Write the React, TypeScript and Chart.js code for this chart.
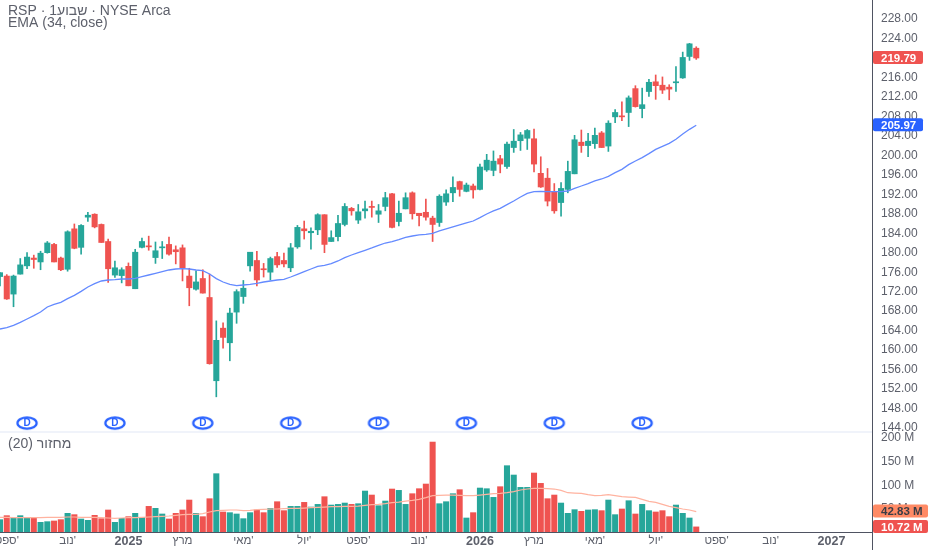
import React, { useEffect, useRef } from "react";
import { Chart, registerables } from "chart.js";

Chart.register(...registerables);

const opens = [174.9,175.0,171.3,175.4,177.1,178.7,177.9,179.8,181.5,178.7,176.4,184.7,180.9,187.1,187.7,185.6,182.1,175.2,175.1,177.0,172.4,180.9,181.2,178.8,180.8,181.5,180.4,180.8,175.0,172.3,174.5,170.6,153.5,164.3,161.3,167.6,
170.8,177.1,178.2,176.5,175.8,179.0,178.2,176.7,181.0,184.7,183.9,184.5,187.6,182.1,183.1,185.6,188.9,186.5,188.4,189.3,187.7,189.3,191.9,186.2,188.8,192.1,187.9,188.1,186.9,186.0,190.2,192.1,194.4,192.4,
193.5,192.8,196.8,196.7,199.1,197.5,201.4,202.8,203.3,203.2,196.1,195.1,192.3,190.1,192.8,196.0,202.5,201.8,202.2,204.4,201.7,207.7,207.9,208.6,213.5,209.4,212.9,214.9,214.2,213.8,214.7,215.7,220.1,221.8];
const highs = [175.7,175.3,175.2,178.6,179.8,179.3,180.1,182.1,181.7,178.9,184.3,185.7,185.6,188.1,187.8,185.7,182.6,178.1,176.7,177.7,180.5,182.8,183.2,182.0,182.1,183.0,181.2,181.4,176.6,176.1,176.3,175.4,165.8,165.4,168.4,172.2,
174.1,179.9,180.1,177.6,178.9,179.9,179.7,181.7,185.4,186.3,184.9,187.8,187.6,184.3,187.5,189.9,189.1,189.7,190.4,190.4,189.7,192.2,192.0,190.4,192.1,192.3,187.9,190.8,187.3,191.7,192.7,195.4,194.5,194.1,
193.9,198.0,200.0,200.7,199.8,202.5,205.1,204.5,205.1,205.2,199.5,197.1,194.0,194.2,198.6,203.9,205.0,204.3,205.4,204.7,206.9,209.2,210.8,212.0,214.1,213.6,215.4,216.3,215.9,214.3,218.0,221.0,222.8,222.1];
const lows = [173.0,170.2,168.7,175.4,176.5,176.6,176.3,179.7,177.9,176.1,176.0,180.6,179.5,186.2,184.9,181.9,173.7,174.7,173.6,173.0,172.4,180.8,180.3,177.6,178.6,179.3,177.5,174.0,168.9,172.1,171.5,156.9,150.2,160.2,157.6,165.3,
169.4,176.0,173.0,174.8,174.2,176.8,176.9,175.9,180.7,182.6,180.5,183.5,179.8,182.1,182.2,185.3,187.5,185.8,186.9,187.1,186.0,188.4,184.9,185.3,188.8,186.7,185.3,186.5,182.1,185.2,189.5,190.3,191.4,192.3,
191.0,192.7,196.5,195.6,196.2,197.1,200.4,200.8,201.0,196.4,193.2,189.4,187.9,187.3,192.1,196.0,200.4,199.5,201.2,201.4,200.6,206.5,206.9,205.7,209.7,207.5,211.9,211.3,212.5,211.2,212.9,215.6,219.3,219.5];
const closes = [175.7,170.3,175.0,177.3,178.9,178.4,179.7,181.8,177.9,176.3,184.1,180.7,185.4,187.5,185.1,181.9,176.5,176.7,176.3,173.0,179.9,182.1,181.0,180.2,181.0,179.5,180.0,176.7,172.6,173.8,171.5,157.0,161.8,162.4,167.4,171.8,
172.5,179.9,174.2,176.3,178.6,177.3,177.5,180.8,185.0,184.3,184.2,187.6,181.5,182.9,185.8,189.3,188.4,188.2,188.8,189.1,188.4,191.1,185.0,187.9,191.1,187.8,187.4,187.1,185.6,191.4,191.9,193.2,192.8,193.7,
192.7,197.4,198.8,198.6,198.0,202.1,202.7,204.0,204.9,198.0,193.3,190.4,188.4,193.0,196.5,203.0,201.8,202.7,203.9,201.4,206.4,208.6,207.7,211.6,209.8,210.2,214.8,214.1,213.2,213.4,214.9,219.9,222.7,219.79];
const ema34 = [164.13,164.40,164.88,165.50,166.18,166.87,167.62,168.65,169.19,169.61,170.36,171.04,171.86,172.75,173.44,173.99,174.19,174.26,174.40,174.40,174.53,174.88,175.22,175.56,175.90,176.25,176.45,176.52,176.45,176.25,176.11,175.42,174.47,173.78,173.30,173.03,
173.17,173.30,173.51,173.78,173.99,174.19,174.33,174.81,175.36,175.90,176.45,177.0,177.21,177.55,178.1,178.78,179.33,179.81,180.29,180.77,181.31,181.79,182.07,182.48,182.96,183.23,183.44,183.57,183.78,184.26,184.67,185.08,185.49,185.90,186.31,
187.0,187.75,188.37,188.91,189.67,190.42,191.24,191.99,192.34,192.41,192.34,192.34,192.34,192.47,193.02,193.5,193.98,194.53,194.94,195.49,196.24,196.92,197.88,198.64,199.32,200.14,201.03,201.65,202.26,203.09,204.18,205.14,205.97];
const volumes = [25.9,34.3,29.4,34.3,30.1,30.1,20.3,21.7,23.1,25.9,39.2,36.4,27.3,24.5,35.0,28.0,46.2,20.3,28.7,32.2,39.2,30.8,53.8,49.7,37.8,27.3,39.2,46.2,67.1,39.2,32.2,69.9,122.4,42.0,40.6,37.8,
28.0,40.6,46.2,40.6,49.7,63.6,44.8,53.8,53.8,62.2,52.4,58.0,74.1,56.6,58.0,60.8,58.0,59.4,86.0,77.6,55.2,65.0,90.2,87.4,58.0,80.4,90.9,100.7,188.8,59.4,63.6,80.4,88.8,29.4,40.6,
92.3,90.9,72.7,95.1,139.2,119.6,93.7,93.7,123.8,102.1,69.9,77.6,60.8,39.2,46.9,43.4,46.2,46.9,44.8,67.1,36.4,48.3,65.7,37.8,58.0,44.8,42.0,44.8,32.2,56.6,39.2,29.4,10.72];
const volumeMa = [30.8,30.8,30.1,30.1,30.1,30.1,30.1,30.8,30.8,30.8,31.5,31.5,30.8,30.8,30.8,30.1,29.4,28.7,29.4,30.1,30.1,30.8,31.5,32.2,32.9,33.6,35.0,36.4,37.1,37.1,38.5,42.0,44.8,45.5,46.2,46.2,
44.8,45.5,46.9,47.6,48.3,48.3,49.0,49.7,49.7,50.3,51.0,51.7,52.4,53.1,53.1,53.8,53.8,54.5,55.9,57.3,58.0,59.4,61.5,62.9,65.0,66.4,68.5,72.0,76.2,76.9,77.6,77.6,76.9,76.2,76.2,
77.6,79.0,80.4,81.1,82.5,84.6,88.1,90.2,91.6,91.6,90.9,90.2,87.4,82.5,81.8,81.1,78.3,76.2,76.9,78.3,76.2,74.1,73.4,72.7,68.5,64.3,62.2,58.0,53.8,51.0,48.3,46.2,42.83];
const dividendWeeks = [4, 17, 30, 43, 56, 69, 82, 95];
const dividendLevel = 144.8;
const monthTicks: Record<number, string> = {
  1: "ספט'", 10: "נוב'", 19: "2025", 27: "מרץ", 36: "מאי'", 45: "יול'", 53: "ספט'", 62: "נוב'",
  71: "2026", 79: "מרץ", 88: "מאי'", 97: "יול'", 106: "ספט'", 114: "נוב'", 123: "2027",
};
const priceTicks = [144,148,152,156,160,164,168,172,176,180,184,188,192,196,200,204,208,212,216,220,224,228];
const volumeTicks = [50, 100, 150, 200];
const titleLine = "RSP · שבוע1 · NYSE Arca";
const emaTitle = "EMA (34, close)";
const volumeTitle = "מחזור (20)";

const UP = "#26a69a";
const DOWN = "#ef5350";
const BLUE = "#2962ff";
const AXIS = "#4f5362";
const TEXT = "#5d606b";
const FONT = '"Liberation Sans", Arial, sans-serif';
const SLOTS = 130;

const candleColors = closes.map((c, i) => (c >= opens[i] ? UP : DOWN));
const slotLabels = Array.from({ length: SLOTS }, (_, i) => monthTicks[i] ?? "");
const dividendMarks = slotLabels.map((_, i) => (dividendWeeks.includes(i) ? dividendLevel : null));

function dividendBadge() {
  const c = document.createElement("canvas");
  c.width = 24;
  c.height = 16;
  const g = c.getContext("2d")!;
  g.fillStyle = "#ffffff";
  g.strokeStyle = BLUE;
  g.lineWidth = 2.2;
  g.beginPath();
  g.ellipse(12, 8, 9.6, 5.6, 0, 0, Math.PI * 2);
  g.fill();
  g.stroke();
  return c;
}

function tag(ctx: CanvasRenderingContext2D, y: number, text: string, bg: string, fg: string, w: number, left: number) {
  ctx.fillStyle = bg;
  ctx.beginPath();
  ctx.roundRect(left + 1, y - 7, w, 13, 2);
  ctx.fill();
  ctx.fillStyle = fg;
  ctx.font = `bold 11.5px ${FONT}`;
  ctx.textAlign = "left";
  ctx.textBaseline = "middle";
  ctx.fillText(text, left + 9, y + 0.5);
}

function noPadding(s: any) {
  s.paddingTop = 0;
  s.paddingBottom = 0;
  s.paddingLeft = 0;
  s.paddingRight = 0;
}

const overlay = {
  id: "overlay",
  afterDatasetsDraw(chart: any) {
    const { ctx, scales, chartArea, height } = chart;
    ctx.save();
    // pane separator
    ctx.fillStyle = "#f0f3fa";
    ctx.fillRect(0, scales.y.bottom, chartArea.right, 2);
    // price axis continues through the time axis
    ctx.fillStyle = AXIS;
    ctx.fillRect(chartArea.right, chartArea.bottom, 1, height - chartArea.bottom);
    // legends
    ctx.fillStyle = TEXT;
    ctx.font = `14px ${FONT}`;
    ctx.textAlign = "left";
    ctx.textBaseline = "middle";
    ctx.fillText(titleLine, 8, 11.5);
    ctx.fillText(emaTitle, 8, 23);
    ctx.fillText(volumeTitle, 8, 444);
    // dividend letters
    const meta = chart.getDatasetMeta(5);
    ctx.fillStyle = BLUE;
    ctx.font = `bold 10px ${FONT}`;
    ctx.textAlign = "center";
    meta.data.forEach((p: any, i: number) => {
      if (dividendMarks[i] !== null) ctx.fillText("D", p.x, p.y + 0.5);
    });
    // last value tags
    const left = chartArea.right;
    const last = closes.length - 1;
    tag(ctx, scales.y.getPixelForValue(closes[last]), closes[last].toFixed(2), DOWN, "#ffffff", 50, left);
    tag(ctx, scales.y.getPixelForValue(ema34[last]), ema34[last].toFixed(2), BLUE, "#ffffff", 50, left);
    tag(ctx, scales.yv.getPixelForValue(volumeMa[last]), `${volumeMa[last].toFixed(2)} M`, "#ff8a65", "#3a3d46", 55, left);
    tag(ctx, scales.yv.getPixelForValue(volumes[last]), `${volumes[last].toFixed(2)} M`, DOWN, "#ffffff", 55, left);
    ctx.restore();
  },
};

export default function App() {
  const ref = useRef<HTMLCanvasElement>(null);
  useEffect(() => {
    const chart = new Chart(ref.current!, {
      type: "bar",
      data: {
        labels: slotLabels,
        datasets: [
          { type: "bar", yAxisID: "y", grouped: false, barThickness: 1, order: 4,
            data: lows.map((l, i) => [l, highs[i]]), backgroundColor: candleColors },
          { type: "bar", yAxisID: "y", grouped: false, barThickness: 5.4, minBarLength: 1, order: 3,
            data: opens.map((o, i) => [o, closes[i]]), backgroundColor: candleColors },
          { type: "bar", yAxisID: "yv", grouped: false, barThickness: 5.4, order: 3,
            data: volumes, backgroundColor: candleColors },
          { type: "line", yAxisID: "y", data: ema34, borderColor: "#648aff", borderWidth: 1.3, pointRadius: 0, order: 1 },
          { type: "line", yAxisID: "yv", data: volumeMa, borderColor: "#ffb3a0", borderWidth: 1.2, pointRadius: 0, order: 1 },
          { type: "line", yAxisID: "y", data: dividendMarks, showLine: false, pointRadius: 8,
            pointStyle: dividendBadge(), order: 0, clip: false },
        ],
      } as any,
      options: {
        animation: false,
        responsive: false,
        devicePixelRatio: 1,
        layout: { padding: 0, autoPadding: false },
        plugins: { legend: { display: false }, tooltip: { enabled: false }, title: { display: false } },
        scales: {
          x: {
            type: "category",
            offset: false,
            grid: { display: false, drawTicks: false },
            border: { color: AXIS },
            afterFit(s: any) { s.height = 18; noPadding(s); },
            ticks: {
              autoSkip: false, maxRotation: 0, minRotation: 0, padding: 2, color: TEXT,
              font: (c: any) => {
                const t = slotLabels[c.index] ?? "";
                return /^\d+$/.test(t) ? { family: FONT, size: 12.5, weight: "bold" } : { family: FONT, size: 11.5 };
              },
            },
          },
          y: {
            type: "linear", position: "right", stack: "panes", stackWeight: 431,
            min: 143.18, max: 231.7,
            grid: { display: false, drawTicks: false },
            border: { color: AXIS },
            afterFit(s: any) { s.width = 60; noPadding(s); },
            afterBuildTicks(s: any) { s.ticks = priceTicks.map((value) => ({ value })); },
            ticks: { autoSkip: false, padding: 9, labelOffset: 1, color: TEXT, font: { family: FONT, size: 12 }, callback: (v: any) => Number(v).toFixed(2) },
          },
          yv: {
            type: "linear", position: "right", stack: "panes", stackWeight: 101,
            min: 0, max: 212,
            grid: { display: false, drawTicks: false },
            border: { color: AXIS },
            afterFit(s: any) { s.width = 60; noPadding(s); },
            afterBuildTicks(s: any) { s.ticks = volumeTicks.map((value) => ({ value })); },
            ticks: { autoSkip: false, padding: 9, labelOffset: 1, color: TEXT, font: { family: FONT, size: 12 }, callback: (v: any) => `${v} M` },
          },
        },
      } as any,
      plugins: [overlay],
    });
    return () => chart.destroy();
  }, []);
  return (
    <div style={{ position: "fixed", left: 0, top: 0, width: 932, height: 550, background: "#fff" }}>
      <canvas ref={ref} width={932} height={550} style={{ display: "block" }} />
    </div>
  );
}
